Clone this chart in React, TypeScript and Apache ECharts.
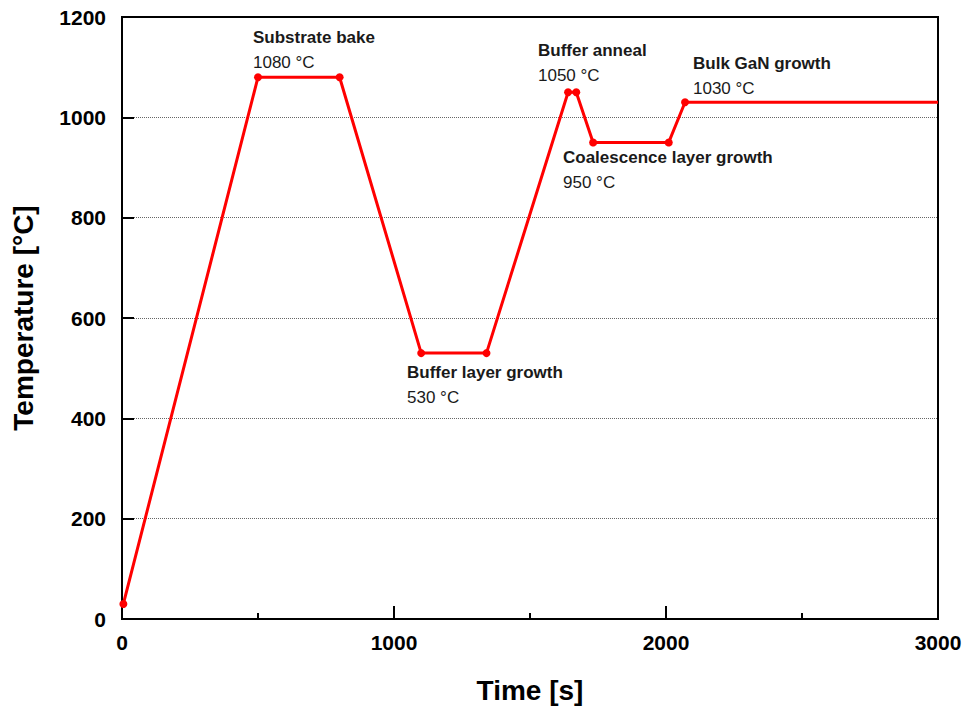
import React, { useEffect, useRef } from "react";
import * as echarts from "echarts";

const timeSec = [5, 500, 800, 1100, 1340, 1640, 1670, 1732, 2010, 2070, 3000];
const tempC = [30, 1080, 1080, 530, 530, 1050, 1050, 950, 950, 1030, 1030];
const stageNames = ["Substrate bake", "Buffer layer growth", "Buffer anneal", "Coalescence layer growth", "Bulk GaN growth"];
const stageTemps = ["1080 °C", "530 °C", "1050 °C", "950 °C", "1030 °C"];
const xTickLabels = ["0", "1000", "2000", "3000"];
const yTickLabels = ["0", "200", "400", "600", "800", "1000", "1200"];

// label anchor positions in pixels (left, cap-center of first line)
const labelPos: [number, number][] = [
  [253, 37],
  [407, 372],
  [538, 50],
  [563, 157],
  [693, 63],
];

export default function App() {
  const ref = useRef<HTMLDivElement>(null);
  useEffect(() => {
    if (!ref.current) return;
    const chart = echarts.init(ref.current, null, { renderer: "svg" });
    const font = "'Liberation Sans', Arial, sans-serif";
    const graphics: any[] = [];
    stageNames.forEach((n, i) => {
      const [x, y] = labelPos[i];
      graphics.push({
        type: "text",
        x,
        y,
        style: { text: n, fontSize: 17, fontWeight: "bold", fontFamily: font, fill: "#1a1a1a", align: "left", verticalAlign: "middle" },
      });
      graphics.push({
        type: "text",
        x,
        y: y + 25,
        style: { text: stageTemps[i], fontSize: 17, fontWeight: "normal", fontFamily: font, fill: "#1a1a1a", align: "left", verticalAlign: "middle" },
      });
    });
    chart.setOption({
      animation: false,
      backgroundColor: "#ffffff",
      grid: {
        left: 122, right: 29, top: 17, bottom: 89,
        outerBoundsMode: "none",
        containLabel: false,
        show: true, borderColor: "#000", borderWidth: 2, backgroundColor: "transparent",
      },
      xAxis: {
        type: "value",
        min: 0,
        max: 3000,
        interval: 1000,
        name: "Time [s]",
        nameLocation: "middle",
        nameGap: 57,
        nameTextStyle: { fontSize: 28, fontWeight: "bold", fontFamily: font, color: "#000" },
        axisLine: { show: true, lineStyle: { color: "#000", width: 2 } },
        axisTick: { show: true, inside: true, length: 13, lineStyle: { color: "#000", width: 2 } },
        minorTick: { show: true, splitNumber: 2, length: 6, lineStyle: { color: "#000", width: 2 } },
        axisLabel: {
          fontSize: 21, fontWeight: "bold", fontFamily: font, color: "#000", margin: 13,
          formatter: (v: number) => xTickLabels[Math.round(v / 1000)] ?? String(v),
        },
        splitLine: { show: false },
      },
      yAxis: {
        type: "value",
        min: 0,
        max: 1200,
        interval: 200,
        name: "Temperature [°C]",
        nameLocation: "middle",
        nameGap: 85,
        nameRotate: 90,
        nameTextStyle: { fontSize: 28, fontWeight: "bold", fontFamily: font, color: "#000" },
        axisLine: { show: true, lineStyle: { color: "#000", width: 2 } },
        axisTick: { show: true, inside: true, length: 12, lineStyle: { color: "#000", width: 2 } },
        axisLabel: {
          fontSize: 21, fontWeight: "bold", fontFamily: font, color: "#000", margin: 16,
          formatter: (v: number) => yTickLabels[Math.round(v / 200)] ?? String(v),
        },
        splitLine: { show: true, showMinLine: false, showMaxLine: false, lineStyle: { color: "#666", type: [1, 1], width: 1 } },
      },
      series: [
        {
          type: "line",
          clip: false,
          data: timeSec.map((t, i) => ({
            value: [t, tempC[i]],
            symbol: i === timeSec.length - 1 ? "none" : "circle",
          })),
          symbolSize: 8,
          lineStyle: { color: "#ff0000", width: 3 },
          itemStyle: { color: "#ff0000" },
          z: 3,
        },
      ],
      graphic: graphics,
    });
    return () => chart.dispose();
  }, []);
  return <div ref={ref} style={{ width: 967, height: 708, position: "absolute", left: 0, top: 0 }} />;
}
